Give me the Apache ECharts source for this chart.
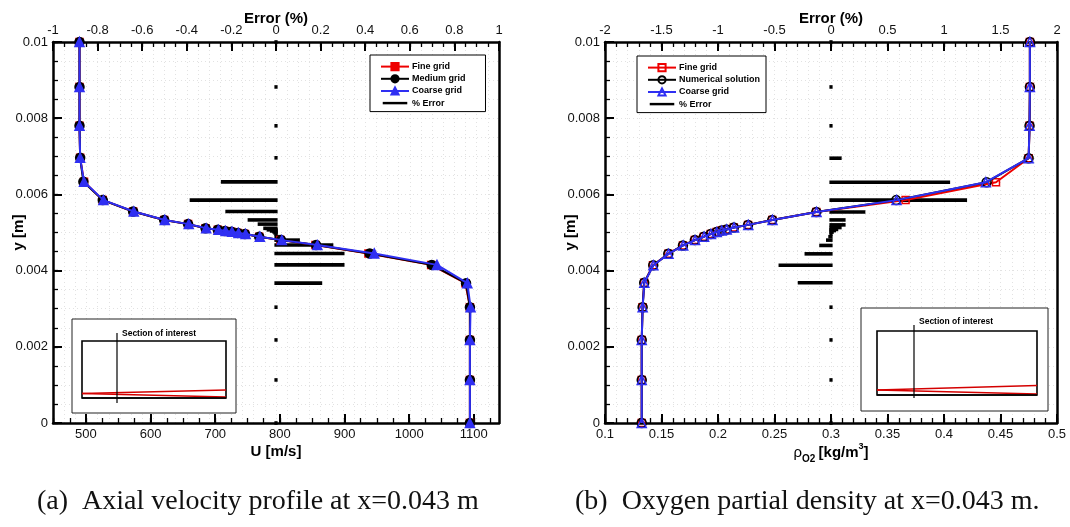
<!DOCTYPE html>
<html>
<head>
<meta charset="utf-8">
<script src="https://cdn.jsdelivr.net/npm/echarts@6/dist/echarts.min.js"></script>
<style>
  html, body { margin: 0; padding: 0; background: #fff; }
  #chart { width: 1070px; height: 527px; }
</style>
</head>
<body>
<div id="chart"></div>
<script>
// ---------- (a) axial velocity profile ----------
const yNodesA = [0, 0.00113, 0.00218, 0.00304, 0.00367, 0.00415, 0.00445, 0.00467, 0.0048, 0.00489,
                 0.00496, 0.00499, 0.00502, 0.00504, 0.00507, 0.00511, 0.00522, 0.00533, 0.00555,
                 0.00585, 0.00633, 0.00696, 0.0078, 0.00882, 0.01];
const uFine    = [1094, 1094, 1094, 1094, 1087, 1034, 937, 855, 801, 768, 746, 735, 725, 715, 704, 685,
                  658, 621, 573, 526, 497, 491, 490, 490, 490];
const uMedium  = [1094, 1094, 1094, 1094, 1088, 1035, 939, 856, 802, 768, 746, 735, 725, 715, 704, 685,
                  658, 621, 573, 526, 496, 491, 490, 490, 490];
const uCoarse  = [1094, 1094, 1094, 1095, 1090, 1043, 946, 858, 803, 769, 747, 736, 726, 716, 705, 686,
                  659, 622, 574, 527, 497, 491, 490, 490, 490];
const errA     = [0, 0, 0, 0, 0.2, 0.3, 0.3, 0.25, 0.1, 0.02, 0, -0.005, -0.01, -0.02, -0.035, -0.05,
                  -0.075, -0.12, -0.22, -0.38, -0.24, 0, 0, 0, 0];

// ---------- (b) oxygen partial density ----------
const yNodesB = [0, 0.00113, 0.00218, 0.00304, 0.00368, 0.00414, 0.00444, 0.00466, 0.0048, 0.00489,
                 0.00496, 0.00501, 0.00505, 0.00508, 0.00513, 0.0052, 0.00533, 0.00554, 0.00585,
                 0.00632, 0.00695, 0.0078, 0.00882, 0.01];
const rhoFine      = [0.1325, 0.1325, 0.1325, 0.1332, 0.1347, 0.1425, 0.156, 0.169, 0.1795, 0.1875,
                      0.1936, 0.1987, 0.2031, 0.2075, 0.214, 0.2266, 0.248, 0.287, 0.366, 0.446,
                      0.4749, 0.4757, 0.476, 0.476];
const rhoNumerical = [0.1325, 0.1325, 0.1325, 0.1333, 0.1347, 0.1427, 0.156, 0.169, 0.1795, 0.1875,
                      0.1936, 0.1987, 0.2031, 0.2075, 0.214, 0.2266, 0.248, 0.287, 0.3577, 0.4377,
                      0.4749, 0.4757, 0.476, 0.476];
const rhoCoarse    = [0.1325, 0.1325, 0.1325, 0.1333, 0.1348, 0.1428, 0.1562, 0.1692, 0.1797, 0.1877,
                      0.1938, 0.1989, 0.2033, 0.2077, 0.2142, 0.2268, 0.2482, 0.2872, 0.358, 0.437,
                      0.4749, 0.4757, 0.476, 0.476];
const errB         = [0, 0, 0, 0, -0.28, -0.45, -0.22, -0.09, -0.03, -0.01, 0, 0.01, 0.03, 0.05,
                      0.08, 0.115, 0.115, 0.29, 1.19, 1.04, 0.08, 0, 0, 0];

// ---------- tick labels ----------
const yTicks     = [0, 0.002, 0.004, 0.006, 0.008, 0.01];
const uTicks     = [500, 600, 700, 800, 900, 1000, 1100];
const errTicksA  = [-1, -0.8, -0.6, -0.4, -0.2, 0, 0.2, 0.4, 0.6, 0.8, 1];
const rhoTicks   = [0.1, 0.15, 0.2, 0.25, 0.3, 0.35, 0.4, 0.45, 0.5];
const errTicksB  = [-2, -1.5, -1, -0.5, 0, 0.5, 1, 1.5, 2];

const FONT = '"Liberation Sans", Arial, Helvetica, sans-serif';
const SERIF = '"Liberation Serif", "DejaVu Serif", serif';
const RED = '#ee0000', BLUE = '#2f2ff2', BLACK = '#000';

function steps(a, b, s) {
  const out = [], n = Math.round((b - a) / s);
  for (let i = 0; i <= n; i++) out.push(+(a + i * s).toFixed(6));
  return out;
}
const fmt = v => String(+v.toFixed(6));

function majorAxis(gridIndex, position, min, max, ticks, extra) {
  return Object.assign({
    type: 'value', gridIndex, position, min, max,
    nameMoveOverlap: false,
    axisLine: { show: true, onZero: false, lineStyle: { color: BLACK, width: 2.5 } },
    axisTick: { show: true, inside: true, length: 9, customValues: ticks, lineStyle: { color: BLACK, width: 2 } },
    axisLabel: { show: true, customValues: ticks, margin: 5, color: '#111', fontFamily: FONT, fontSize: 13, formatter: fmt },
    splitLine: { show: false }
  }, extra || {});
}
function minorAxis(gridIndex, position, min, max, ticks, grid) {
  return {
    type: 'value', gridIndex, position, min, max,
    axisLine: { show: false, onZero: false },
    axisTick: { show: true, inside: true, length: 5, customValues: ticks, lineStyle: { color: BLACK, width: 1.3 } },
    axisLabel: { show: false },
    splitLine: grid ? { show: true, lineStyle: { color: '#e2e2e2', type: [1, 3], width: 1 } } : { show: false }
  };
}
function frameAxis(gridIndex, position, min, max) {
  return {
    type: 'value', gridIndex, position, min, max,
    axisLine: { show: true, onZero: false, lineStyle: { color: BLACK, width: 2.5 } },
    axisTick: { show: false }, axisLabel: { show: false }, splitLine: { show: false }
  };
}
const titleStyle = { fontFamily: FONT, fontSize: 15, fontWeight: 'bold', color: '#000' };

const xAxis = [
  majorAxis(0, 'bottom', 449, 1139, uTicks, { name: 'U [m/s]', nameLocation: 'middle', nameGap: 21, nameTextStyle: titleStyle }),
  minorAxis(0, 'bottom', 449, 1139, steps(450, 1125, 25)),
  majorAxis(0, 'top', -1, 1, errTicksA, { name: 'Error (%)', nameLocation: 'middle', nameGap: 16, nameTextStyle: titleStyle }),
  Object.assign(minorAxis(0, 'top', -1, 1, steps(-1, 1, 0.05), true), { interval: 0.1 }),
  majorAxis(1, 'bottom', 0.1, 0.5, rhoTicks, {
    name: '{r|ρ}{s|O2} {b|[kg/m}{p|3}{b|]}', nameLocation: 'middle', nameGap: 19,
    nameTextStyle: {
      rich: {
        r: { fontFamily: FONT, fontSize: 15, color: '#000', verticalAlign: 'bottom', lineHeight: 18 },
        s: { fontFamily: FONT, fontSize: 10, fontWeight: 'bold', color: '#000', verticalAlign: 'bottom', lineHeight: 14, padding: [0, 0, -4, 0] },
        b: { fontFamily: FONT, fontSize: 15, fontWeight: 'bold', color: '#000', verticalAlign: 'bottom', lineHeight: 18 },
        p: { fontFamily: FONT, fontSize: 9, fontWeight: 'bold', color: '#000', verticalAlign: 'top', lineHeight: 10, padding: [0, 0, 8, 0] }
      }
    }
  }),
  minorAxis(1, 'bottom', 0.1, 0.5, steps(0.1, 0.5, 0.01)),
  majorAxis(1, 'top', -2, 2, errTicksB, { name: 'Error (%)', nameLocation: 'middle', nameGap: 16, nameTextStyle: titleStyle }),
  Object.assign(minorAxis(1, 'top', -2, 2, steps(-2, 2, 0.1), true), { interval: 0.2 })
];

const yAxis = [
  majorAxis(0, 'left', 0, 0.01, yTicks, { name: 'y [m]', nameLocation: 'middle', nameGap: 27, nameRotate: 90, nameTextStyle: titleStyle }),
  Object.assign(minorAxis(0, 'left', 0, 0.01, steps(0, 0.01, 0.0005), true), { interval: 0.0005 }),
  frameAxis(0, 'right', 0, 0.01),
  majorAxis(1, 'left', 0, 0.01, yTicks, { name: 'y [m]', nameLocation: 'middle', nameGap: 27, nameRotate: 90, nameTextStyle: titleStyle }),
  Object.assign(minorAxis(1, 'left', 0, 0.01, steps(0, 0.01, 0.0005), true), { interval: 0.0005 }),
  frameAxis(1, 'right', 0, 0.01)
];

// filled markers in (a), open markers in (b)
function lineSeries(name, xs, ys, xi, yi, color, symbol, size, z, filled) {
  return {
    type: 'line', name, xAxisIndex: xi, yAxisIndex: yi, z,
    data: xs.map((x, i) => [x, ys[i]]),
    symbol, symbolSize: size, showAllSymbol: true,
    lineStyle: { color, width: 2 },
    itemStyle: { color: filled ? color : 'rgba(0,0,0,0)', borderColor: color, borderWidth: 1.5 },
    emphasis: { disabled: true }, animation: false
  };
}
function errorSeries(errs, ys, xi, yi) {
  return {
    type: 'custom', name: '% Error', xAxisIndex: xi, yAxisIndex: yi, z: 1,
    data: errs.map((e, i) => [e, ys[i]]),
    renderItem(params, api) {
      const p0 = api.coord([0, api.value(1)]);
      const p1 = api.coord([api.value(0), api.value(1)]);
      const h = 3.6, cap = 1.6;
      const x0 = Math.min(p0[0], p1[0]) - cap, x1 = Math.max(p0[0], p1[0]) + cap;
      return { type: 'rect', shape: { x: x0, y: p0[1] - h / 2, width: x1 - x0, height: h }, style: { fill: BLACK } };
    },
    itemStyle: { color: BLACK }, animation: false
  };
}

const series = [
  errorSeries(errA, yNodesA, 2, 0),
  lineSeries('Fine grid', uFine, yNodesA, 0, 0, RED, 'rect', 7, 3, true),
  lineSeries('Medium grid', uMedium, yNodesA, 0, 0, BLACK, 'circle', 9, 4, true),
  lineSeries('Coarse grid', uCoarse, yNodesA, 0, 0, BLUE, 'triangle', 9, 5, true),
  errorSeries(errB, yNodesB, 6, 3),
  lineSeries('Fine grid ', rhoFine, yNodesB, 4, 3, RED, 'rect', 7, 3, false),
  lineSeries('Numerical solution', rhoNumerical, yNodesB, 4, 3, BLACK, 'circle', 9, 4, false),
  lineSeries('Coarse grid ', rhoCoarse, yNodesB, 4, 3, BLUE, 'triangle', 9, 5, false)
];

const ERR_ICON = 'path://M0,0L0,0M0,4L30,4L30,7L0,7ZM30,11L30,11';
function legend(names, left, top, padRight) {
  return {
    data: names.map(n => n === '% Error' ? { name: n, icon: ERR_ICON } : { name: n }),
    formatter: n => n.trim(),
    orient: 'vertical', left, top, selectedMode: false,
    backgroundColor: '#fff', borderColor: '#000', borderWidth: 1, borderRadius: 0,
    padding: [7, padRight, 4, 10], itemGap: 3, itemWidth: 28, itemHeight: 9,
    textStyle: { fontFamily: FONT, fontSize: 9, fontWeight: 'bold', color: '#000', padding: [0, 0, 0, -2] }
  };
}

function inset(ox, oy, ow, oh, ix, iy, iw, ih, vx, vy0, vy1, ty, r1, r2) {
  return [
    { type: 'rect', shape: { x: ox, y: oy, width: ow, height: oh }, style: { fill: '#fff', stroke: '#222', lineWidth: 1 }, z: 50 },
    { type: 'rect', shape: { x: ix, y: iy, width: iw, height: ih }, style: { fill: '#fff', stroke: '#000', lineWidth: 1.6 }, z: 51 },
    { type: 'line', shape: { x1: ix, y1: r1[0], x2: ix + iw, y2: r1[1] }, style: { stroke: '#d40000', lineWidth: 1.4 }, z: 52 },
    { type: 'line', shape: { x1: ix, y1: r2[0], x2: ix + iw, y2: r2[1] }, style: { stroke: '#d40000', lineWidth: 1.4 }, z: 52 },
    { type: 'line', shape: { x1: ix, y1: iy + ih, x2: ix + iw, y2: iy + ih }, style: { stroke: '#000', lineWidth: 1.6 }, z: 53 },
    { type: 'line', shape: { x1: vx, y1: vy0, x2: vx, y2: vy1 }, style: { stroke: '#000', lineWidth: 1.2 }, z: 54 },
    { type: 'text', x: vx + 5, y: ty, style: { text: 'Section of interest', fontFamily: FONT, fontSize: 8.5, fontWeight: 'bold', fill: '#000', textVerticalAlign: 'middle' }, z: 55 }
  ];
}

const graphic = [
  ...inset(72, 319, 164, 94, 82, 341, 144, 57, 117, 333, 403, 334, [393.5, 390], [393.5, 397]),
  ...inset(861, 308, 187, 103, 877, 331, 160, 64, 914, 325, 398, 322, [390, 385.5], [390, 394]),
  { type: 'text', left: 37, top: 488, style: { text: '(a)  Axial velocity profile at x=0.043 m', fontFamily: SERIF, fontSize: 28, fill: '#111' } },
  { type: 'text', left: 575, top: 488, style: { text: '(b)  Oxygen partial density at x=0.043 m.', fontFamily: SERIF, fontSize: 28, fill: '#111' } }
];

const chart = echarts.init(document.getElementById('chart'), null, { renderer: 'canvas' });
chart.setOption({
  backgroundColor: '#fff',
  animation: false,
  grid: [
    { left: 53, top: 42, width: 446, height: 381 },
    { left: 605, top: 42, width: 452, height: 381 }
  ],
  xAxis, yAxis, series,
  legend: [
    legend(['Fine grid', 'Medium grid', 'Coarse grid', '% Error'], 370, 55, 20),
    legend(['Fine grid ', 'Numerical solution', 'Coarse grid ', '% Error'], 637, 56, 6)
  ],
  graphic
});
</script>
</body>
</html>
